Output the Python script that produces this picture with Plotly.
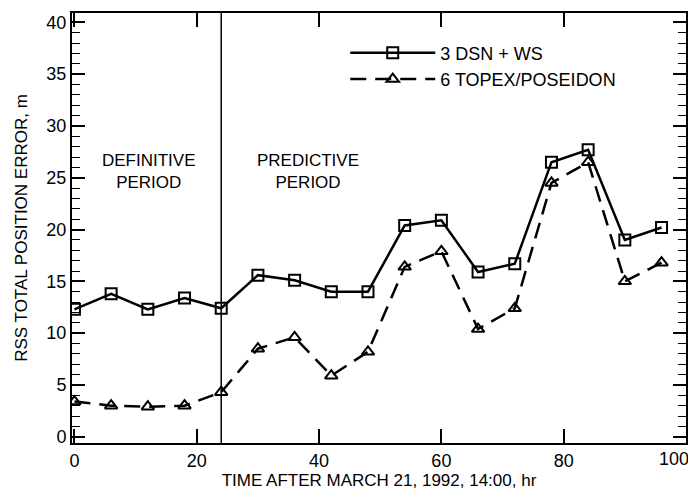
import plotly.graph_objects as go

# hours after March 21, 1992, 14:00
hours = [0, 6, 12, 18, 24, 30, 36, 42, 48, 54, 60, 66, 72, 78, 84, 90, 96]
dsn_ws = [12.3, 13.8, 12.3, 13.4, 12.4, 15.6, 15.1, 14.0, 14.0, 20.4, 20.9,
          15.9, 16.7, 26.5, 27.7, 19.0, 20.2]
topex = [3.4, 3.0, 2.9, 3.0, 4.3, 8.5, 9.6, 5.9, 8.2, 16.4, 17.9,
         10.4, 12.4, 24.5, 26.5, 15.0, 16.8]
series_names = ["3 DSN + WS", "6 TOPEX/POSEIDON"]
x_ticks = [0, 20, 40, 60, 80, 100]
x_tick_labels = ["0", "20", "40", "60", "80", "100"]
period_boundary = 24
period_labels = ["DEFINITIVE<br>PERIOD", "PREDICTIVE<br>PERIOD"]
period_label_x = [12.2, 38.2]
period_label_y = 25.6

FONT = "Liberation Sans, Arial, sans-serif"

fig = go.Figure()

fig.add_trace(go.Scatter(
    x=hours, y=dsn_ws, name=series_names[0], mode="lines+markers",
    line=dict(color="black", width=2.5),
    marker=dict(symbol="square-open", size=11, color="black",
                line=dict(width=2, color="black")),
))
fig.add_trace(go.Scatter(
    x=hours, y=topex, name=series_names[1], mode="lines+markers",
    line=dict(color="black", width=2.5, dash="16px,9px"),
    marker=dict(symbol="triangle-up-open", size=11, color="black",
                line=dict(width=2, color="black")),
))

fig.add_vline(x=period_boundary, line=dict(color="black", width=1.5))

for txt, xp in zip(period_labels, period_label_x):
    fig.add_annotation(x=xp, y=period_label_y, text=txt, showarrow=False,
                       font=dict(family=FONT, size=17, color="black"))

# last tick label sits pulled in from the right edge, as in the original
fig.add_annotation(x=x_ticks[-1], xref="x", y=0, yref="paper",
                   yanchor="top", xshift=-12, yshift=-4, showarrow=False,
                   text=x_tick_labels[-1],
                   font=dict(family=FONT, size=18, color="black"))

fig.update_xaxes(
    range=[-0.4, 100], tickvals=x_ticks,
    ticktext=x_tick_labels[:-1] + [""],
    ticks="inside", ticklen=14, tickwidth=1.5, tickcolor="black",
    showline=True, linecolor="black", linewidth=2, mirror="ticks",
    showgrid=False, zeroline=False, automargin=False,
    tickfont=dict(family=FONT, size=18, color="black"),
    title=dict(text="TIME AFTER MARCH 21, 1992, 14:00, hr", standoff=0,
               font=dict(family=FONT, size=17, color="black")),
)
fig.update_yaxes(
    range=[-0.6, 40.9], tick0=0, dtick=5,
    ticks="inside", ticklen=13, tickwidth=1.5, tickcolor="black",
    minor=dict(dtick=1, ticks="inside", ticklen=8, tickwidth=1.2,
               tickcolor="black", showgrid=False),
    showline=True, linecolor="black", linewidth=2, mirror="ticks",
    showgrid=False, zeroline=False, automargin=False,
    tickfont=dict(family=FONT, size=18, color="black"),
    title=dict(text="RSS TOTAL POSITION ERROR, m", standoff=14,
               font=dict(family=FONT, size=17, color="black")),
)

# the page body adds an 8px offset, so the figure is sized to fit the window
fig.update_layout(
    width=688, height=492,
    margin=dict(l=64, r=10, t=5, b=57),
    plot_bgcolor="white", paper_bgcolor="white",
    font=dict(family=FONT, color="black"),
    legend=dict(x=0.445, y=0.95, xanchor="left", yanchor="top",
                bgcolor="rgba(0,0,0,0)", itemwidth=85,
                font=dict(family=FONT, size=18, color="black")),
)

fig.write_html("out.html")
